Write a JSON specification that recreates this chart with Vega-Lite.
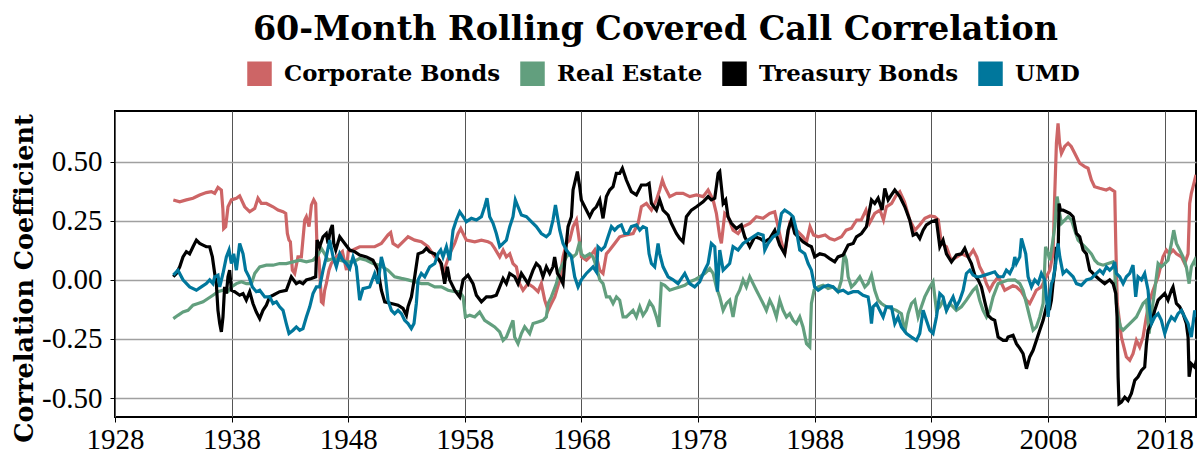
{
"$schema":"https://vega.github.io/schema/vega-lite/v6.json",
"width":1081,"height":306,
"autosize":{"type":"none"},
"padding":{"left":115,"top":111,"right":2,"bottom":37},
"background":"white",
"config":{"view":{"stroke":"black","strokeWidth":2},"font":"DejaVu Serif"},
"title":{"text":"60-Month Rolling Covered Call Correlation","font":"DejaVu Serif","fontSize":33.4,"fontWeight":"bold","color":"black","anchor":"middle","offset":14},
"data":{"values":[
{"k":"C","t":1933.0,"v":0.338},{"k":"C","t":1933.55,"v":0.33},{"k":"C","t":1934.12,"v":0.338},{"k":"C","t":1934.69,"v":0.345},{"k":"C","t":1935.26,"v":0.359},{"k":"C","t":1935.83,"v":0.369},{"k":"C","t":1936.26,"v":0.373},{"k":"C","t":1936.55,"v":0.366},{"k":"C","t":1936.83,"v":0.391},{"k":"C","t":1937.12,"v":0.38},{"k":"C","t":1937.25,"v":0.3},{"k":"C","t":1937.32,"v":0.217},{"k":"C","t":1937.49,"v":0.225},{"k":"C","t":1937.69,"v":0.309},{"k":"C","t":1937.98,"v":0.338},{"k":"C","t":1938.41,"v":0.345},{"k":"C","t":1938.69,"v":0.355},{"k":"C","t":1939.12,"v":0.309},{"k":"C","t":1939.55,"v":0.288},{"k":"C","t":1939.98,"v":0.302},{"k":"C","t":1940.26,"v":0.345},{"k":"C","t":1940.55,"v":0.323},{"k":"C","t":1940.98,"v":0.323},{"k":"C","t":1941.55,"v":0.309},{"k":"C","t":1941.98,"v":0.295},{"k":"C","t":1942.41,"v":0.288},{"k":"C","t":1942.64,"v":0.281},{"k":"C","t":1942.78,"v":0.196},{"k":"C","t":1942.92,"v":0.168},{"k":"C","t":1943.04,"v":0.161},{"k":"C","t":1943.21,"v":0.041},{"k":"C","t":1943.41,"v":0.027},{"k":"C","t":1943.69,"v":0.097},{"k":"C","t":1943.98,"v":0.097},{"k":"C","t":1944.27,"v":0.253},{"k":"C","t":1944.41,"v":0.267},{"k":"C","t":1944.64,"v":0.225},{"k":"C","t":1944.84,"v":0.316},{"k":"C","t":1945.04,"v":0.338},{"k":"C","t":1945.21,"v":0.323},{"k":"C","t":1945.33,"v":0.126},{"k":"C","t":1945.5,"v":0.083},{"k":"C","t":1945.7,"v":-0.093},{"k":"C","t":1945.84,"v":-0.1},{"k":"C","t":1945.98,"v":-0.044},{"k":"C","t":1946.12,"v":-0.016},{"k":"C","t":1946.35,"v":0.041},{"k":"C","t":1946.55,"v":0.069},{"k":"C","t":1946.98,"v":0.097},{"k":"C","t":1947.5,"v":0.12},{"k":"C","t":1947.85,"v":0.041},{"k":"C","t":1948.0,"v":0.12},{"k":"C","t":1948.4,"v":0.126},{"k":"C","t":1948.98,"v":0.14},{"k":"C","t":1949.6,"v":0.14},{"k":"C","t":1950.27,"v":0.14},{"k":"C","t":1950.84,"v":0.154},{"k":"C","t":1951.41,"v":0.19},{"k":"C","t":1951.64,"v":0.2},{"k":"C","t":1951.84,"v":0.154},{"k":"C","t":1952.27,"v":0.14},{"k":"C","t":1952.84,"v":0.168},{"k":"C","t":1953.13,"v":0.182},{"k":"C","t":1953.7,"v":0.168},{"k":"C","t":1954.27,"v":0.161},{"k":"C","t":1954.84,"v":0.14},{"k":"C","t":1955.42,"v":0.097},{"k":"C","t":1955.84,"v":0.083},{"k":"C","t":1956.13,"v":0.027},{"k":"C","t":1956.42,"v":0.069},{"k":"C","t":1956.7,"v":0.11},{"k":"C","t":1957.13,"v":0.154},{"k":"C","t":1957.42,"v":0.196},{"k":"C","t":1957.65,"v":0.217},{"k":"C","t":1957.85,"v":0.196},{"k":"C","t":1958.13,"v":0.168},{"k":"C","t":1958.85,"v":0.161},{"k":"C","t":1959.42,"v":0.168},{"k":"C","t":1959.99,"v":0.161},{"k":"C","t":1960.27,"v":0.154},{"k":"C","t":1960.56,"v":0.133},{"k":"C","t":1960.99,"v":0.097},{"k":"C","t":1961.28,"v":0.126},{"k":"C","t":1961.56,"v":0.097},{"k":"C","t":1961.85,"v":0.11},{"k":"C","t":1962.13,"v":0.069},{"k":"C","t":1962.42,"v":0.055},{"k":"C","t":1962.7,"v":-0.016},{"k":"C","t":1962.99,"v":-0.044},{"k":"C","t":1963.42,"v":-0.016},{"k":"C","t":1963.85,"v":-0.03},{"k":"C","t":1964.28,"v":-0.05},{"k":"C","t":1964.56,"v":-0.016},{"k":"C","t":1964.85,"v":-0.086},{"k":"C","t":1965.14,"v":-0.129},{"k":"C","t":1965.42,"v":-0.1},{"k":"C","t":1965.71,"v":-0.072},{"k":"C","t":1966.14,"v":0.0},{"k":"C","t":1966.42,"v":0.097},{"k":"C","t":1966.71,"v":0.154},{"k":"C","t":1966.99,"v":0.168},{"k":"C","t":1967.28,"v":0.225},{"k":"C","t":1967.57,"v":0.253},{"k":"C","t":1967.77,"v":0.182},{"k":"C","t":1968.0,"v":0.097},{"k":"C","t":1968.42,"v":0.083},{"k":"C","t":1968.71,"v":0.097},{"k":"C","t":1969.14,"v":0.126},{"k":"C","t":1969.57,"v":0.041},{"k":"C","t":1969.85,"v":0.027},{"k":"C","t":1970.14,"v":0.11},{"k":"C","t":1970.42,"v":0.126},{"k":"C","t":1970.85,"v":0.154},{"k":"C","t":1971.28,"v":0.182},{"k":"C","t":1971.85,"v":0.19},{"k":"C","t":1972.43,"v":0.196},{"k":"C","t":1972.86,"v":0.239},{"k":"C","t":1973.14,"v":0.309},{"k":"C","t":1973.57,"v":0.323},{"k":"C","t":1974.0,"v":0.295},{"k":"C","t":1974.43,"v":0.338},{"k":"C","t":1974.71,"v":0.38},{"k":"C","t":1974.94,"v":0.422},{"k":"C","t":1975.14,"v":0.394},{"k":"C","t":1975.57,"v":0.352},{"k":"C","t":1976.14,"v":0.366},{"k":"C","t":1976.71,"v":0.366},{"k":"C","t":1977.29,"v":0.352},{"k":"C","t":1977.86,"v":0.359},{"k":"C","t":1978.43,"v":0.352},{"k":"C","t":1978.86,"v":0.38},{"k":"C","t":1979.29,"v":0.338},{"k":"C","t":1979.57,"v":0.281},{"k":"C","t":1979.86,"v":0.182},{"k":"C","t":1980.0,"v":0.154},{"k":"C","t":1980.29,"v":0.281},{"k":"C","t":1980.57,"v":0.267},{"k":"C","t":1981.0,"v":0.21},{"k":"C","t":1981.43,"v":0.196},{"k":"C","t":1981.86,"v":0.225},{"k":"C","t":1982.43,"v":0.239},{"k":"C","t":1983.0,"v":0.267},{"k":"C","t":1983.57,"v":0.26},{"k":"C","t":1984.14,"v":0.281},{"k":"C","t":1984.57,"v":0.288},{"k":"C","t":1984.86,"v":0.225},{"k":"C","t":1985.14,"v":0.161},{"k":"C","t":1985.43,"v":0.11},{"k":"C","t":1985.86,"v":0.239},{"k":"C","t":1986.43,"v":0.21},{"k":"C","t":1987.0,"v":0.182},{"k":"C","t":1987.3,"v":0.16},{"k":"C","t":1987.6,"v":0.225},{"k":"C","t":1987.9,"v":0.19},{"k":"C","t":1988.3,"v":0.182},{"k":"C","t":1988.9,"v":0.19},{"k":"C","t":1989.3,"v":0.175},{"k":"C","t":1989.7,"v":0.168},{"k":"C","t":1990.3,"v":0.182},{"k":"C","t":1990.7,"v":0.21},{"k":"C","t":1991.15,"v":0.218},{"k":"C","t":1991.6,"v":0.253},{"k":"C","t":1992.0,"v":0.253},{"k":"C","t":1992.4,"v":0.295},{"k":"C","t":1992.7,"v":0.24},{"k":"C","t":1993.15,"v":0.281},{"k":"C","t":1993.6,"v":0.295},{"k":"C","t":1993.9,"v":0.253},{"k":"C","t":1994.15,"v":0.309},{"k":"C","t":1994.6,"v":0.323},{"k":"C","t":1995.0,"v":0.359},{"k":"C","t":1995.3,"v":0.373},{"k":"C","t":1995.7,"v":0.33},{"k":"C","t":1996.15,"v":0.253},{"k":"C","t":1996.6,"v":0.21},{"k":"C","t":1997.0,"v":0.232},{"k":"C","t":1997.45,"v":0.26},{"k":"C","t":1997.9,"v":0.27},{"k":"C","t":1998.3,"v":0.267},{"k":"C","t":1998.6,"v":0.254},{"k":"C","t":1998.87,"v":0.154},{"k":"C","t":1999.3,"v":0.14},{"k":"C","t":1999.7,"v":0.083},{"k":"C","t":2000.2,"v":0.097},{"k":"C","t":2000.6,"v":0.11},{"k":"C","t":2001.2,"v":0.097},{"k":"C","t":2001.6,"v":0.126},{"k":"C","t":2001.9,"v":0.097},{"k":"C","t":2002.15,"v":0.055},{"k":"C","t":2002.45,"v":0.027},{"k":"C","t":2002.73,"v":-0.016},{"k":"C","t":2003.0,"v":-0.044},{"k":"C","t":2003.3,"v":-0.016},{"k":"C","t":2003.75,"v":0.013},{"k":"C","t":2004.3,"v":-0.044},{"k":"C","t":2005.0,"v":-0.025},{"k":"C","t":2005.3,"v":-0.03},{"k":"C","t":2005.73,"v":-0.05},{"k":"C","t":2006.16,"v":-0.086},{"k":"C","t":2006.44,"v":-0.1},{"k":"C","t":2006.73,"v":-0.072},{"k":"C","t":2007.0,"v":-0.044},{"k":"C","t":2007.44,"v":-0.03},{"k":"C","t":2007.87,"v":0.013},{"k":"C","t":2008.16,"v":0.041},{"k":"C","t":2008.44,"v":0.11},{"k":"C","t":2008.59,"v":0.366},{"k":"C","t":2008.73,"v":0.578},{"k":"C","t":2008.87,"v":0.662},{"k":"C","t":2009.0,"v":0.578},{"k":"C","t":2009.16,"v":0.535},{"k":"C","t":2009.44,"v":0.564},{"k":"C","t":2009.73,"v":0.578},{"k":"C","t":2010.0,"v":0.564},{"k":"C","t":2010.3,"v":0.535},{"k":"C","t":2010.73,"v":0.493},{"k":"C","t":2011.16,"v":0.479},{"k":"C","t":2011.44,"v":0.472},{"k":"C","t":2011.73,"v":0.422},{"k":"C","t":2012.0,"v":0.394},{"k":"C","t":2012.44,"v":0.387},{"k":"C","t":2013.0,"v":0.38},{"k":"C","t":2013.3,"v":0.387},{"k":"C","t":2013.73,"v":0.373},{"k":"C","t":2013.82,"v":0.154},{"k":"C","t":2013.95,"v":-0.1},{"k":"C","t":2014.3,"v":-0.242},{"k":"C","t":2014.73,"v":-0.326},{"k":"C","t":2015.02,"v":-0.34},{"k":"C","t":2015.3,"v":-0.312},{"k":"C","t":2015.59,"v":-0.256},{"k":"C","t":2015.87,"v":-0.284},{"k":"C","t":2016.16,"v":-0.242},{"k":"C","t":2016.44,"v":-0.157},{"k":"C","t":2016.73,"v":-0.086},{"k":"C","t":2017.02,"v":-0.044},{"k":"C","t":2017.45,"v":0.013},{"k":"C","t":2017.87,"v":0.097},{"k":"C","t":2018.16,"v":0.126},{"k":"C","t":2018.44,"v":0.11},{"k":"C","t":2018.73,"v":0.126},{"k":"C","t":2019.02,"v":0.11},{"k":"C","t":2019.45,"v":0.097},{"k":"C","t":2019.73,"v":0.069},{"k":"C","t":2020.02,"v":0.11},{"k":"C","t":2020.16,"v":0.323},{"k":"C","t":2020.3,"v":0.366},{"k":"C","t":2020.45,"v":0.394},{"k":"C","t":2020.7,"v":0.444},
{"k":"R","t":1933.0,"v":-0.164},{"k":"R","t":1933.4,"v":-0.15},{"k":"R","t":1933.83,"v":-0.136},{"k":"R","t":1934.26,"v":-0.129},{"k":"R","t":1934.69,"v":-0.107},{"k":"R","t":1935.12,"v":-0.1},{"k":"R","t":1935.55,"v":-0.093},{"k":"R","t":1935.98,"v":-0.079},{"k":"R","t":1936.4,"v":-0.065},{"k":"R","t":1936.83,"v":-0.05},{"k":"R","t":1937.26,"v":-0.044},{"k":"R","t":1937.69,"v":-0.05},{"k":"R","t":1937.98,"v":-0.03},{"k":"R","t":1938.41,"v":-0.016},{"k":"R","t":1938.84,"v":-0.008},{"k":"R","t":1939.26,"v":-0.016},{"k":"R","t":1939.7,"v":-0.016},{"k":"R","t":1939.98,"v":0.027},{"k":"R","t":1940.41,"v":0.055},{"k":"R","t":1940.98,"v":0.062},{"k":"R","t":1941.55,"v":0.062},{"k":"R","t":1942.12,"v":0.069},{"k":"R","t":1942.69,"v":0.069},{"k":"R","t":1943.27,"v":0.076},{"k":"R","t":1943.84,"v":0.083},{"k":"R","t":1944.41,"v":0.076},{"k":"R","t":1944.98,"v":0.083},{"k":"R","t":1945.4,"v":0.105},{"k":"R","t":1945.7,"v":0.133},{"k":"R","t":1945.98,"v":0.11},{"k":"R","t":1946.27,"v":0.083},{"k":"R","t":1946.7,"v":0.09},{"k":"R","t":1947.27,"v":0.083},{"k":"R","t":1947.84,"v":0.076},{"k":"R","t":1948.41,"v":0.076},{"k":"R","t":1948.98,"v":0.09},{"k":"R","t":1949.56,"v":0.083},{"k":"R","t":1950.12,"v":0.069},{"k":"R","t":1950.7,"v":0.062},{"k":"R","t":1951.41,"v":0.041},{"k":"R","t":1951.98,"v":0.013},{"k":"R","t":1952.56,"v":0.006},{"k":"R","t":1953.13,"v":0.0},{"k":"R","t":1953.7,"v":-0.008},{"k":"R","t":1954.27,"v":-0.016},{"k":"R","t":1954.84,"v":-0.016},{"k":"R","t":1955.42,"v":-0.03},{"k":"R","t":1955.99,"v":-0.03},{"k":"R","t":1956.56,"v":-0.044},{"k":"R","t":1957.13,"v":-0.05},{"k":"R","t":1957.56,"v":-0.05},{"k":"R","t":1957.85,"v":-0.072},{"k":"R","t":1958.05,"v":-0.157},{"k":"R","t":1958.42,"v":-0.15},{"k":"R","t":1958.85,"v":-0.157},{"k":"R","t":1959.27,"v":-0.136},{"k":"R","t":1959.7,"v":-0.171},{"k":"R","t":1960.13,"v":-0.185},{"k":"R","t":1960.56,"v":-0.199},{"k":"R","t":1960.99,"v":-0.22},{"k":"R","t":1961.28,"v":-0.256},{"k":"R","t":1961.56,"v":-0.242},{"k":"R","t":1961.85,"v":-0.206},{"k":"R","t":1962.13,"v":-0.171},{"k":"R","t":1962.27,"v":-0.242},{"k":"R","t":1962.56,"v":-0.27},{"k":"R","t":1962.85,"v":-0.227},{"k":"R","t":1963.13,"v":-0.199},{"k":"R","t":1963.56,"v":-0.227},{"k":"R","t":1963.85,"v":-0.185},{"k":"R","t":1964.28,"v":-0.178},{"k":"R","t":1964.7,"v":-0.171},{"k":"R","t":1964.99,"v":-0.157},{"k":"R","t":1965.14,"v":-0.1},{"k":"R","t":1965.42,"v":-0.072},{"k":"R","t":1965.85,"v":-0.016},{"k":"R","t":1966.13,"v":0.041},{"k":"R","t":1966.42,"v":0.069},{"k":"R","t":1966.71,"v":0.097},{"k":"R","t":1966.99,"v":0.11},{"k":"R","t":1967.28,"v":0.097},{"k":"R","t":1967.56,"v":0.11},{"k":"R","t":1967.85,"v":0.161},{"k":"R","t":1967.99,"v":0.11},{"k":"R","t":1968.28,"v":0.097},{"k":"R","t":1968.71,"v":0.11},{"k":"R","t":1968.99,"v":0.097},{"k":"R","t":1969.28,"v":0.055},{"k":"R","t":1969.57,"v":0.0},{"k":"R","t":1969.85,"v":-0.016},{"k":"R","t":1970.14,"v":-0.072},{"k":"R","t":1970.42,"v":-0.072},{"k":"R","t":1970.71,"v":-0.1},{"k":"R","t":1971.0,"v":-0.072},{"k":"R","t":1971.28,"v":-0.086},{"k":"R","t":1971.57,"v":-0.157},{"k":"R","t":1971.85,"v":-0.157},{"k":"R","t":1972.14,"v":-0.143},{"k":"R","t":1972.42,"v":-0.129},{"k":"R","t":1972.71,"v":-0.157},{"k":"R","t":1973.0,"v":-0.114},{"k":"R","t":1973.28,"v":-0.15},{"k":"R","t":1973.57,"v":-0.129},{"k":"R","t":1973.85,"v":-0.093},{"k":"R","t":1974.14,"v":-0.114},{"k":"R","t":1974.43,"v":-0.157},{"k":"R","t":1974.65,"v":-0.199},{"k":"R","t":1974.85,"v":-0.016},{"k":"R","t":1975.14,"v":-0.023},{"k":"R","t":1975.57,"v":-0.044},{"k":"R","t":1976.0,"v":-0.037},{"k":"R","t":1976.43,"v":-0.03},{"k":"R","t":1976.86,"v":-0.023},{"k":"R","t":1977.29,"v":-0.008},{"k":"R","t":1977.71,"v":0.0},{"k":"R","t":1978.14,"v":0.013},{"k":"R","t":1978.57,"v":0.027},{"k":"R","t":1979.0,"v":0.048},{"k":"R","t":1979.29,"v":0.027},{"k":"R","t":1979.57,"v":-0.03},{"k":"R","t":1979.86,"v":-0.072},{"k":"R","t":1980.15,"v":-0.129},{"k":"R","t":1980.43,"v":-0.1},{"k":"R","t":1980.71,"v":-0.086},{"k":"R","t":1981.0,"v":-0.157},{"k":"R","t":1981.29,"v":-0.072},{"k":"R","t":1981.57,"v":-0.044},{"k":"R","t":1981.86,"v":0.0},{"k":"R","t":1982.14,"v":-0.03},{"k":"R","t":1982.43,"v":0.013},{"k":"R","t":1982.72,"v":-0.016},{"k":"R","t":1983.0,"v":-0.044},{"k":"R","t":1983.29,"v":-0.072},{"k":"R","t":1983.58,"v":-0.1},{"k":"R","t":1983.86,"v":-0.129},{"k":"R","t":1984.15,"v":-0.086},{"k":"R","t":1984.43,"v":-0.114},{"k":"R","t":1984.72,"v":-0.157},{"k":"R","t":1985.0,"v":-0.086},{"k":"R","t":1985.29,"v":-0.129},{"k":"R","t":1985.58,"v":-0.157},{"k":"R","t":1985.86,"v":-0.143},{"k":"R","t":1986.15,"v":-0.171},{"k":"R","t":1986.43,"v":-0.185},{"k":"R","t":1986.72,"v":-0.157},{"k":"R","t":1987.0,"v":-0.199},{"k":"R","t":1987.3,"v":-0.27},{"k":"R","t":1987.58,"v":-0.284},{"k":"R","t":1987.72,"v":-0.1},{"k":"R","t":1987.95,"v":-0.044},{"k":"R","t":1988.3,"v":-0.03},{"k":"R","t":1988.72,"v":-0.023},{"k":"R","t":1989.15,"v":-0.037},{"k":"R","t":1989.58,"v":-0.03},{"k":"R","t":1990.0,"v":-0.05},{"k":"R","t":1990.3,"v":0.0},{"k":"R","t":1990.52,"v":0.11},{"k":"R","t":1990.72,"v":0.083},{"k":"R","t":1990.87,"v":0.013},{"k":"R","t":1991.15,"v":-0.03},{"k":"R","t":1991.44,"v":-0.016},{"k":"R","t":1991.87,"v":0.013},{"k":"R","t":1992.3,"v":-0.03},{"k":"R","t":1992.58,"v":-0.016},{"k":"R","t":1992.87,"v":0.02},{"k":"R","t":1993.15,"v":-0.044},{"k":"R","t":1993.44,"v":-0.086},{"k":"R","t":1993.72,"v":-0.1},{"k":"R","t":1994.15,"v":-0.114},{"k":"R","t":1994.58,"v":-0.121},{"k":"R","t":1995.01,"v":-0.129},{"k":"R","t":1995.44,"v":-0.143},{"k":"R","t":1995.73,"v":-0.22},{"k":"R","t":1996.01,"v":-0.143},{"k":"R","t":1996.3,"v":-0.1},{"k":"R","t":1996.58,"v":-0.086},{"k":"R","t":1996.87,"v":-0.157},{"k":"R","t":1997.15,"v":-0.114},{"k":"R","t":1997.44,"v":-0.072},{"k":"R","t":1997.87,"v":-0.03},{"k":"R","t":1998.15,"v":-0.008},{"k":"R","t":1998.44,"v":-0.129},{"k":"R","t":1998.73,"v":-0.114},{"k":"R","t":1999.01,"v":-0.086},{"k":"R","t":1999.3,"v":-0.129},{"k":"R","t":1999.58,"v":-0.1},{"k":"R","t":1999.87,"v":-0.114},{"k":"R","t":2000.15,"v":-0.129},{"k":"R","t":2000.58,"v":-0.114},{"k":"R","t":2001.01,"v":-0.086},{"k":"R","t":2001.3,"v":-0.065},{"k":"R","t":2001.58,"v":-0.044},{"k":"R","t":2001.87,"v":-0.03},{"k":"R","t":2002.15,"v":-0.086},{"k":"R","t":2002.44,"v":-0.129},{"k":"R","t":2002.73,"v":-0.157},{"k":"R","t":2003.01,"v":-0.129},{"k":"R","t":2003.3,"v":-0.072},{"k":"R","t":2003.73,"v":-0.016},{"k":"R","t":2004.16,"v":-0.008},{"k":"R","t":2004.59,"v":-0.001},{"k":"R","t":2005.16,"v":0.0},{"k":"R","t":2005.59,"v":-0.016},{"k":"R","t":2005.87,"v":-0.044},{"k":"R","t":2006.16,"v":-0.1},{"k":"R","t":2006.44,"v":-0.157},{"k":"R","t":2006.73,"v":-0.213},{"k":"R","t":2007.01,"v":-0.199},{"k":"R","t":2007.3,"v":-0.157},{"k":"R","t":2007.59,"v":-0.1},{"k":"R","t":2007.8,"v":0.14},{"k":"R","t":2008.02,"v":0.11},{"k":"R","t":2008.16,"v":0.083},{"k":"R","t":2008.39,"v":0.154},{"k":"R","t":2008.59,"v":0.225},{"k":"R","t":2008.79,"v":0.352},{"k":"R","t":2008.96,"v":0.295},{"k":"R","t":2009.16,"v":0.239},{"k":"R","t":2009.44,"v":0.253},{"k":"R","t":2009.73,"v":0.267},{"k":"R","t":2010.02,"v":0.253},{"k":"R","t":2010.3,"v":0.21},{"k":"R","t":2010.59,"v":0.168},{"k":"R","t":2010.87,"v":0.154},{"k":"R","t":2011.16,"v":0.14},{"k":"R","t":2011.44,"v":0.126},{"k":"R","t":2011.73,"v":0.11},{"k":"R","t":2012.02,"v":0.083},{"k":"R","t":2012.3,"v":0.069},{"k":"R","t":2012.73,"v":0.062},{"k":"R","t":2013.16,"v":0.069},{"k":"R","t":2013.59,"v":0.076},{"k":"R","t":2013.73,"v":0.041},{"k":"R","t":2013.87,"v":-0.1},{"k":"R","t":2014.02,"v":-0.157},{"k":"R","t":2014.22,"v":-0.199},{"k":"R","t":2014.45,"v":-0.213},{"k":"R","t":2014.73,"v":-0.199},{"k":"R","t":2015.02,"v":-0.185},{"k":"R","t":2015.3,"v":-0.171},{"k":"R","t":2015.59,"v":-0.157},{"k":"R","t":2015.87,"v":-0.129},{"k":"R","t":2016.16,"v":-0.1},{"k":"R","t":2016.45,"v":-0.086},{"k":"R","t":2016.68,"v":-0.227},{"k":"R","t":2016.88,"v":-0.143},{"k":"R","t":2017.16,"v":-0.044},{"k":"R","t":2017.45,"v":0.069},{"k":"R","t":2017.73,"v":0.055},{"k":"R","t":2018.02,"v":0.069},{"k":"R","t":2018.3,"v":0.083},{"k":"R","t":2018.59,"v":0.154},{"k":"R","t":2018.79,"v":0.21},{"k":"R","t":2019.02,"v":0.154},{"k":"R","t":2019.3,"v":0.126},{"k":"R","t":2019.59,"v":0.097},{"k":"R","t":2019.87,"v":0.055},{"k":"R","t":2020.11,"v":-0.016},{"k":"R","t":2020.3,"v":0.055},{"k":"R","t":2020.59,"v":0.083},{"k":"R","t":2020.74,"v":0.055},
{"k":"T","t":1933.0,"v":0.013},{"k":"T","t":1933.26,"v":0.027},{"k":"T","t":1933.55,"v":0.055},{"k":"T","t":1933.83,"v":0.097},{"k":"T","t":1934.12,"v":0.119},{"k":"T","t":1934.4,"v":0.11},{"k":"T","t":1934.69,"v":0.14},{"k":"T","t":1934.98,"v":0.168},{"k":"T","t":1935.26,"v":0.154},{"k":"T","t":1935.55,"v":0.147},{"k":"T","t":1935.83,"v":0.14},{"k":"T","t":1936.12,"v":0.14},{"k":"T","t":1936.35,"v":0.097},{"k":"T","t":1936.55,"v":0.027},{"k":"T","t":1936.69,"v":-0.016},{"k":"T","t":1936.83,"v":-0.129},{"k":"T","t":1936.98,"v":-0.185},{"k":"T","t":1937.12,"v":-0.22},{"k":"T","t":1937.26,"v":-0.157},{"k":"T","t":1937.4,"v":-0.03},{"k":"T","t":1937.55,"v":-0.058},{"k":"T","t":1937.69,"v":0.013},{"k":"T","t":1937.83,"v":0.041},{"k":"T","t":1937.98,"v":-0.044},{"k":"T","t":1938.26,"v":-0.05},{"k":"T","t":1938.69,"v":-0.065},{"k":"T","t":1938.98,"v":-0.058},{"k":"T","t":1939.26,"v":-0.086},{"k":"T","t":1939.55,"v":-0.05},{"k":"T","t":1939.83,"v":-0.1},{"k":"T","t":1940.12,"v":-0.136},{"k":"T","t":1940.41,"v":-0.164},{"k":"T","t":1940.69,"v":-0.129},{"k":"T","t":1940.98,"v":-0.107},{"k":"T","t":1941.26,"v":-0.072},{"k":"T","t":1941.55,"v":-0.065},{"k":"T","t":1942.12,"v":-0.05},{"k":"T","t":1942.69,"v":-0.044},{"k":"T","t":1943.12,"v":0.013},{"k":"T","t":1943.55,"v":-0.016},{"k":"T","t":1943.83,"v":-0.008},{"k":"T","t":1944.12,"v":-0.016},{"k":"T","t":1944.41,"v":0.0},{"k":"T","t":1944.84,"v":0.006},{"k":"T","t":1945.21,"v":0.013},{"k":"T","t":1945.33,"v":0.168},{"k":"T","t":1945.55,"v":0.14},{"k":"T","t":1945.84,"v":0.182},{"k":"T","t":1946.12,"v":0.196},{"k":"T","t":1946.27,"v":0.154},{"k":"T","t":1946.47,"v":0.21},{"k":"T","t":1946.64,"v":0.232},{"k":"T","t":1946.76,"v":0.154},{"k":"T","t":1946.93,"v":0.126},{"k":"T","t":1947.27,"v":0.182},{"k":"T","t":1947.7,"v":0.154},{"k":"T","t":1948.12,"v":0.126},{"k":"T","t":1948.55,"v":0.119},{"k":"T","t":1948.98,"v":0.105},{"k":"T","t":1949.56,"v":0.097},{"k":"T","t":1950.12,"v":0.083},{"k":"T","t":1950.55,"v":0.041},{"k":"T","t":1950.84,"v":-0.044},{"k":"T","t":1951.13,"v":-0.093},{"k":"T","t":1951.7,"v":-0.1},{"k":"T","t":1952.27,"v":-0.107},{"k":"T","t":1952.7,"v":-0.121},{"k":"T","t":1952.99,"v":-0.15},{"k":"T","t":1953.13,"v":-0.113},{"k":"T","t":1953.42,"v":-0.072},{"k":"T","t":1953.7,"v":0.013},{"k":"T","t":1953.99,"v":0.11},{"k":"T","t":1954.42,"v":0.118},{"k":"T","t":1954.7,"v":0.133},{"k":"T","t":1954.99,"v":0.118},{"k":"T","t":1955.42,"v":0.11},{"k":"T","t":1955.99,"v":0.069},{"k":"T","t":1956.27,"v":-0.016},{"k":"T","t":1956.5,"v":0.055},{"k":"T","t":1956.7,"v":0.0},{"k":"T","t":1957.13,"v":-0.044},{"k":"T","t":1957.56,"v":-0.072},{"k":"T","t":1957.85,"v":0.0},{"k":"T","t":1958.27,"v":0.02},{"k":"T","t":1958.7,"v":-0.016},{"k":"T","t":1958.99,"v":-0.065},{"k":"T","t":1959.42,"v":-0.093},{"k":"T","t":1959.85,"v":-0.072},{"k":"T","t":1960.28,"v":-0.072},{"k":"T","t":1960.7,"v":-0.065},{"k":"T","t":1960.99,"v":-0.03},{"k":"T","t":1961.28,"v":0.006},{"k":"T","t":1961.56,"v":-0.016},{"k":"T","t":1961.85,"v":0.027},{"k":"T","t":1962.28,"v":0.013},{"k":"T","t":1962.56,"v":-0.016},{"k":"T","t":1962.85,"v":0.027},{"k":"T","t":1963.13,"v":0.006},{"k":"T","t":1963.42,"v":-0.016},{"k":"T","t":1963.85,"v":0.041},{"k":"T","t":1964.13,"v":0.069},{"k":"T","t":1964.42,"v":0.055},{"k":"T","t":1964.7,"v":0.013},{"k":"T","t":1964.99,"v":0.055},{"k":"T","t":1965.28,"v":0.027},{"k":"T","t":1965.56,"v":0.055},{"k":"T","t":1965.7,"v":0.097},{"k":"T","t":1965.94,"v":0.027},{"k":"T","t":1966.14,"v":0.013},{"k":"T","t":1966.42,"v":-0.016},{"k":"T","t":1966.62,"v":0.11},{"k":"T","t":1966.85,"v":0.225},{"k":"T","t":1967.14,"v":0.267},{"k":"T","t":1967.28,"v":0.38},{"k":"T","t":1967.48,"v":0.422},{"k":"T","t":1967.65,"v":0.458},{"k":"T","t":1967.85,"v":0.394},{"k":"T","t":1967.99,"v":0.338},{"k":"T","t":1968.28,"v":0.309},{"k":"T","t":1968.71,"v":0.267},{"k":"T","t":1968.99,"v":0.295},{"k":"T","t":1969.28,"v":0.309},{"k":"T","t":1969.57,"v":0.338},{"k":"T","t":1969.85,"v":0.26},{"k":"T","t":1970.14,"v":0.352},{"k":"T","t":1970.42,"v":0.38},{"k":"T","t":1970.71,"v":0.394},{"k":"T","t":1970.99,"v":0.45},{"k":"T","t":1971.28,"v":0.45},{"k":"T","t":1971.51,"v":0.472},{"k":"T","t":1971.85,"v":0.422},{"k":"T","t":1972.28,"v":0.373},{"k":"T","t":1972.71,"v":0.359},{"k":"T","t":1973.14,"v":0.401},{"k":"T","t":1973.57,"v":0.401},{"k":"T","t":1973.8,"v":0.408},{"k":"T","t":1974.0,"v":0.323},{"k":"T","t":1974.43,"v":0.295},{"k":"T","t":1974.71,"v":0.338},{"k":"T","t":1975.0,"v":0.295},{"k":"T","t":1975.43,"v":0.274},{"k":"T","t":1975.71,"v":0.239},{"k":"T","t":1976.14,"v":0.196},{"k":"T","t":1976.43,"v":0.175},{"k":"T","t":1976.71,"v":0.161},{"k":"T","t":1977.0,"v":0.267},{"k":"T","t":1977.43,"v":0.295},{"k":"T","t":1977.86,"v":0.309},{"k":"T","t":1978.43,"v":0.33},{"k":"T","t":1978.86,"v":0.352},{"k":"T","t":1979.14,"v":0.338},{"k":"T","t":1979.43,"v":0.345},{"k":"T","t":1979.72,"v":0.45},{"k":"T","t":1979.86,"v":0.458},{"k":"T","t":1980.0,"v":0.394},{"k":"T","t":1980.15,"v":0.323},{"k":"T","t":1980.37,"v":0.338},{"k":"T","t":1980.57,"v":0.267},{"k":"T","t":1980.86,"v":0.239},{"k":"T","t":1981.29,"v":0.217},{"k":"T","t":1981.71,"v":0.232},{"k":"T","t":1982.0,"v":0.182},{"k":"T","t":1982.43,"v":0.14},{"k":"T","t":1982.86,"v":0.182},{"k":"T","t":1983.29,"v":0.175},{"k":"T","t":1983.72,"v":0.161},{"k":"T","t":1984.15,"v":0.175},{"k":"T","t":1984.58,"v":0.21},{"k":"T","t":1985.0,"v":0.147},{"k":"T","t":1985.43,"v":0.11},{"k":"T","t":1985.72,"v":0.21},{"k":"T","t":1986.0,"v":0.253},{"k":"T","t":1986.29,"v":0.196},{"k":"T","t":1986.58,"v":0.182},{"k":"T","t":1987.0,"v":0.161},{"k":"T","t":1987.44,"v":0.147},{"k":"T","t":1987.72,"v":0.14},{"k":"T","t":1988.0,"v":0.097},{"k":"T","t":1988.44,"v":0.11},{"k":"T","t":1988.86,"v":0.105},{"k":"T","t":1989.29,"v":0.09},{"k":"T","t":1989.72,"v":0.076},{"k":"T","t":1990.0,"v":0.097},{"k":"T","t":1990.44,"v":0.105},{"k":"T","t":1990.87,"v":0.147},{"k":"T","t":1991.3,"v":0.154},{"k":"T","t":1991.58,"v":0.182},{"k":"T","t":1992.01,"v":0.196},{"k":"T","t":1992.44,"v":0.225},{"k":"T","t":1992.87,"v":0.338},{"k":"T","t":1993.15,"v":0.323},{"k":"T","t":1993.44,"v":0.345},{"k":"T","t":1993.78,"v":0.295},{"k":"T","t":1994.01,"v":0.387},{"k":"T","t":1994.3,"v":0.338},{"k":"T","t":1994.58,"v":0.359},{"k":"T","t":1994.87,"v":0.38},{"k":"T","t":1995.3,"v":0.352},{"k":"T","t":1995.73,"v":0.309},{"k":"T","t":1996.15,"v":0.253},{"k":"T","t":1996.44,"v":0.189},{"k":"T","t":1996.73,"v":0.196},{"k":"T","t":1997.01,"v":0.175},{"k":"T","t":1997.3,"v":0.21},{"k":"T","t":1997.58,"v":0.232},{"k":"T","t":1998.01,"v":0.246},{"k":"T","t":1998.44,"v":0.253},{"k":"T","t":1998.73,"v":0.14},{"k":"T","t":1999.01,"v":0.168},{"k":"T","t":1999.3,"v":0.11},{"k":"T","t":1999.73,"v":0.076},{"k":"T","t":2000.15,"v":0.105},{"k":"T","t":2000.58,"v":0.11},{"k":"T","t":2000.87,"v":0.133},{"k":"T","t":2001.16,"v":0.097},{"k":"T","t":2001.44,"v":0.069},{"k":"T","t":2001.73,"v":0.02},{"k":"T","t":2002.02,"v":0.0},{"k":"T","t":2002.3,"v":-0.03},{"k":"T","t":2002.59,"v":-0.093},{"k":"T","t":2002.87,"v":-0.15},{"k":"T","t":2003.16,"v":-0.164},{"k":"T","t":2003.44,"v":-0.171},{"k":"T","t":2003.73,"v":-0.242},{"k":"T","t":2004.16,"v":-0.256},{"k":"T","t":2004.44,"v":-0.256},{"k":"T","t":2004.58,"v":-0.242},{"k":"T","t":2005.01,"v":-0.234},{"k":"T","t":2005.3,"v":-0.27},{"k":"T","t":2005.59,"v":-0.29},{"k":"T","t":2005.87,"v":-0.312},{"k":"T","t":2006.16,"v":-0.376},{"k":"T","t":2006.44,"v":-0.326},{"k":"T","t":2006.73,"v":-0.298},{"k":"T","t":2007.01,"v":-0.256},{"k":"T","t":2007.3,"v":-0.213},{"k":"T","t":2007.59,"v":-0.171},{"k":"T","t":2007.87,"v":-0.114},{"k":"T","t":2008.16,"v":-0.12},{"k":"T","t":2008.3,"v":-0.086},{"k":"T","t":2008.44,"v":-0.016},{"k":"T","t":2008.59,"v":0.041},{"k":"T","t":2008.73,"v":0.14},{"k":"T","t":2008.87,"v":0.099},{"k":"T","t":2008.96,"v":0.323},{"k":"T","t":2009.07,"v":0.295},{"k":"T","t":2009.3,"v":0.295},{"k":"T","t":2009.59,"v":0.288},{"k":"T","t":2009.87,"v":0.281},{"k":"T","t":2010.16,"v":0.267},{"k":"T","t":2010.45,"v":0.196},{"k":"T","t":2010.73,"v":0.182},{"k":"T","t":2011.02,"v":0.126},{"k":"T","t":2011.3,"v":0.11},{"k":"T","t":2011.59,"v":0.041},{"k":"T","t":2011.87,"v":0.027},{"k":"T","t":2012.16,"v":0.013},{"k":"T","t":2012.45,"v":0.0},{"k":"T","t":2012.87,"v":-0.016},{"k":"T","t":2013.3,"v":0.0},{"k":"T","t":2013.59,"v":-0.016},{"k":"T","t":2013.82,"v":-0.058},{"k":"T","t":2013.93,"v":-0.157},{"k":"T","t":2014.02,"v":-0.41},{"k":"T","t":2014.1,"v":-0.524},{"k":"T","t":2014.3,"v":-0.517},{"k":"T","t":2014.59,"v":-0.496},{"k":"T","t":2014.87,"v":-0.51},{"k":"T","t":2015.16,"v":-0.48},{"k":"T","t":2015.45,"v":-0.425},{"k":"T","t":2015.73,"v":-0.41},{"k":"T","t":2016.02,"v":-0.383},{"k":"T","t":2016.3,"v":-0.369},{"k":"T","t":2016.45,"v":-0.27},{"k":"T","t":2016.59,"v":-0.213},{"k":"T","t":2016.87,"v":-0.185},{"k":"T","t":2017.02,"v":-0.157},{"k":"T","t":2017.16,"v":-0.129},{"k":"T","t":2017.45,"v":-0.086},{"k":"T","t":2017.73,"v":-0.072},{"k":"T","t":2018.02,"v":-0.058},{"k":"T","t":2018.3,"v":-0.086},{"k":"T","t":2018.59,"v":-0.044},{"k":"T","t":2018.73,"v":-0.03},{"k":"T","t":2019.02,"v":-0.1},{"k":"T","t":2019.3,"v":-0.114},{"k":"T","t":2019.59,"v":-0.143},{"k":"T","t":2019.87,"v":-0.185},{"k":"T","t":2020.02,"v":-0.242},{"k":"T","t":2020.11,"v":-0.41},{"k":"T","t":2020.3,"v":-0.355},{"k":"T","t":2020.59,"v":-0.369},{"k":"T","t":2020.74,"v":-0.34},
{"k":"U","t":1933.0,"v":0.02},{"k":"U","t":1933.4,"v":0.041},{"k":"U","t":1933.83,"v":0.0},{"k":"U","t":1934.4,"v":-0.03},{"k":"U","t":1934.98,"v":-0.044},{"k":"U","t":1935.4,"v":-0.03},{"k":"U","t":1935.83,"v":-0.016},{"k":"U","t":1936.12,"v":0.0},{"k":"U","t":1936.4,"v":-0.016},{"k":"U","t":1936.55,"v":0.013},{"k":"U","t":1936.83,"v":0.02},{"k":"U","t":1936.98,"v":-0.03},{"k":"U","t":1937.26,"v":0.027},{"k":"U","t":1937.55,"v":0.097},{"k":"U","t":1937.78,"v":0.126},{"k":"U","t":1937.98,"v":0.069},{"k":"U","t":1938.18,"v":0.11},{"k":"U","t":1938.41,"v":0.041},{"k":"U","t":1938.69,"v":0.154},{"k":"U","t":1938.98,"v":0.11},{"k":"U","t":1939.2,"v":0.041},{"k":"U","t":1939.49,"v":0.013},{"k":"U","t":1939.78,"v":-0.03},{"k":"U","t":1940.12,"v":-0.05},{"k":"U","t":1940.41,"v":-0.044},{"k":"U","t":1940.84,"v":-0.072},{"k":"U","t":1941.27,"v":-0.072},{"k":"U","t":1941.55,"v":-0.1},{"k":"U","t":1941.84,"v":-0.093},{"k":"U","t":1942.12,"v":-0.114},{"k":"U","t":1942.41,"v":-0.129},{"k":"U","t":1942.69,"v":-0.185},{"k":"U","t":1942.92,"v":-0.227},{"k":"U","t":1943.27,"v":-0.213},{"k":"U","t":1943.55,"v":-0.199},{"k":"U","t":1943.84,"v":-0.213},{"k":"U","t":1944.12,"v":-0.206},{"k":"U","t":1944.41,"v":-0.157},{"k":"U","t":1944.7,"v":-0.114},{"k":"U","t":1944.98,"v":-0.058},{"k":"U","t":1945.27,"v":-0.03},{"k":"U","t":1945.55,"v":-0.03},{"k":"U","t":1945.84,"v":0.041},{"k":"U","t":1946.12,"v":0.097},{"k":"U","t":1946.41,"v":0.168},{"k":"U","t":1946.7,"v":0.097},{"k":"U","t":1946.98,"v":0.055},{"k":"U","t":1947.27,"v":0.11},{"k":"U","t":1947.55,"v":0.083},{"k":"U","t":1947.84,"v":0.069},{"k":"U","t":1948.13,"v":0.048},{"k":"U","t":1948.41,"v":0.097},{"k":"U","t":1948.7,"v":0.055},{"k":"U","t":1948.98,"v":-0.086},{"k":"U","t":1949.27,"v":-0.037},{"k":"U","t":1949.84,"v":-0.03},{"k":"U","t":1950.27,"v":0.027},{"k":"U","t":1950.56,"v":-0.016},{"k":"U","t":1950.84,"v":0.097},{"k":"U","t":1951.13,"v":0.041},{"k":"U","t":1951.41,"v":-0.086},{"k":"U","t":1951.7,"v":-0.129},{"k":"U","t":1951.98,"v":-0.143},{"k":"U","t":1952.27,"v":-0.129},{"k":"U","t":1952.56,"v":-0.143},{"k":"U","t":1952.84,"v":-0.171},{"k":"U","t":1953.13,"v":-0.185},{"k":"U","t":1953.41,"v":-0.206},{"k":"U","t":1953.64,"v":-0.185},{"k":"U","t":1953.84,"v":-0.1},{"k":"U","t":1953.99,"v":0.0},{"k":"U","t":1954.27,"v":0.027},{"k":"U","t":1954.56,"v":0.013},{"k":"U","t":1954.99,"v":0.055},{"k":"U","t":1955.42,"v":0.069},{"k":"U","t":1955.7,"v":0.11},{"k":"U","t":1955.93,"v":0.126},{"k":"U","t":1956.13,"v":0.097},{"k":"U","t":1956.42,"v":0.14},{"k":"U","t":1956.7,"v":0.083},{"k":"U","t":1956.99,"v":0.21},{"k":"U","t":1957.27,"v":0.253},{"k":"U","t":1957.56,"v":0.288},{"k":"U","t":1957.85,"v":0.267},{"k":"U","t":1958.13,"v":0.246},{"k":"U","t":1958.56,"v":0.26},{"k":"U","t":1958.99,"v":0.253},{"k":"U","t":1959.42,"v":0.267},{"k":"U","t":1959.7,"v":0.309},{"k":"U","t":1959.9,"v":0.345},{"k":"U","t":1960.13,"v":0.267},{"k":"U","t":1960.42,"v":0.239},{"k":"U","t":1960.7,"v":0.196},{"k":"U","t":1960.99,"v":0.14},{"k":"U","t":1961.28,"v":0.154},{"k":"U","t":1961.56,"v":0.168},{"k":"U","t":1961.85,"v":0.225},{"k":"U","t":1962.13,"v":0.267},{"k":"U","t":1962.33,"v":0.338},{"k":"U","t":1962.56,"v":0.309},{"k":"U","t":1962.85,"v":0.274},{"k":"U","t":1963.28,"v":0.267},{"k":"U","t":1963.7,"v":0.246},{"k":"U","t":1964.13,"v":0.225},{"k":"U","t":1964.56,"v":0.196},{"k":"U","t":1964.99,"v":0.182},{"k":"U","t":1965.28,"v":0.196},{"k":"U","t":1965.56,"v":0.253},{"k":"U","t":1965.77,"v":0.316},{"k":"U","t":1965.99,"v":0.253},{"k":"U","t":1966.14,"v":0.21},{"k":"U","t":1966.42,"v":0.154},{"k":"U","t":1966.71,"v":0.126},{"k":"U","t":1967.14,"v":0.097},{"k":"U","t":1967.42,"v":0.013},{"k":"U","t":1967.71,"v":-0.03},{"k":"U","t":1967.99,"v":0.0},{"k":"U","t":1968.42,"v":0.027},{"k":"U","t":1968.71,"v":0.041},{"k":"U","t":1969.0,"v":0.055},{"k":"U","t":1969.28,"v":0.034},{"k":"U","t":1969.42,"v":0.14},{"k":"U","t":1969.71,"v":0.126},{"k":"U","t":1970.0,"v":0.14},{"k":"U","t":1970.28,"v":0.182},{"k":"U","t":1970.57,"v":0.225},{"k":"U","t":1970.85,"v":0.21},{"k":"U","t":1971.14,"v":0.225},{"k":"U","t":1971.42,"v":0.232},{"k":"U","t":1971.71,"v":0.196},{"k":"U","t":1972.0,"v":0.196},{"k":"U","t":1972.28,"v":0.225},{"k":"U","t":1972.71,"v":0.232},{"k":"U","t":1973.0,"v":0.21},{"k":"U","t":1973.28,"v":0.225},{"k":"U","t":1973.57,"v":0.218},{"k":"U","t":1973.8,"v":0.11},{"k":"U","t":1974.0,"v":0.069},{"k":"U","t":1974.28,"v":0.055},{"k":"U","t":1974.57,"v":0.154},{"k":"U","t":1974.71,"v":0.11},{"k":"U","t":1975.0,"v":0.055},{"k":"U","t":1975.43,"v":0.013},{"k":"U","t":1975.86,"v":0.0},{"k":"U","t":1976.28,"v":-0.016},{"k":"U","t":1976.86,"v":0.027},{"k":"U","t":1977.28,"v":-0.016},{"k":"U","t":1977.71,"v":-0.03},{"k":"U","t":1978.14,"v":-0.008},{"k":"U","t":1978.57,"v":0.041},{"k":"U","t":1978.86,"v":0.069},{"k":"U","t":1979.14,"v":0.154},{"k":"U","t":1979.43,"v":0.14},{"k":"U","t":1979.66,"v":-0.05},{"k":"U","t":1979.86,"v":0.126},{"k":"U","t":1980.15,"v":0.041},{"k":"U","t":1980.43,"v":0.055},{"k":"U","t":1980.71,"v":0.069},{"k":"U","t":1981.0,"v":0.14},{"k":"U","t":1981.43,"v":0.126},{"k":"U","t":1981.86,"v":0.154},{"k":"U","t":1982.29,"v":0.168},{"k":"U","t":1982.72,"v":0.182},{"k":"U","t":1983.15,"v":0.196},{"k":"U","t":1983.58,"v":0.189},{"k":"U","t":1983.72,"v":0.126},{"k":"U","t":1984.0,"v":0.154},{"k":"U","t":1984.43,"v":0.182},{"k":"U","t":1984.86,"v":0.196},{"k":"U","t":1985.15,"v":0.281},{"k":"U","t":1985.43,"v":0.295},{"k":"U","t":1985.86,"v":0.281},{"k":"U","t":1986.15,"v":0.267},{"k":"U","t":1986.43,"v":0.21},{"k":"U","t":1986.72,"v":0.126},{"k":"U","t":1987.15,"v":0.11},{"k":"U","t":1987.44,"v":0.069},{"k":"U","t":1987.72,"v":0.041},{"k":"U","t":1988.0,"v":-0.03},{"k":"U","t":1988.3,"v":-0.044},{"k":"U","t":1988.72,"v":-0.03},{"k":"U","t":1989.15,"v":-0.023},{"k":"U","t":1989.58,"v":-0.03},{"k":"U","t":1990.0,"v":-0.05},{"k":"U","t":1990.44,"v":-0.044},{"k":"U","t":1990.87,"v":-0.058},{"k":"U","t":1991.3,"v":-0.05},{"k":"U","t":1991.72,"v":-0.05},{"k":"U","t":1992.15,"v":-0.065},{"k":"U","t":1992.58,"v":-0.072},{"k":"U","t":1992.72,"v":-0.114},{"k":"U","t":1992.87,"v":-0.185},{"k":"U","t":1993.01,"v":-0.114},{"k":"U","t":1993.3,"v":-0.1},{"k":"U","t":1993.58,"v":-0.129},{"k":"U","t":1993.87,"v":-0.157},{"k":"U","t":1994.15,"v":-0.114},{"k":"U","t":1994.58,"v":-0.114},{"k":"U","t":1994.87,"v":-0.185},{"k":"U","t":1995.15,"v":-0.157},{"k":"U","t":1995.44,"v":-0.199},{"k":"U","t":1995.87,"v":-0.227},{"k":"U","t":1996.3,"v":-0.242},{"k":"U","t":1996.73,"v":-0.256},{"k":"U","t":1997.01,"v":-0.227},{"k":"U","t":1997.3,"v":-0.129},{"k":"U","t":1997.58,"v":-0.171},{"k":"U","t":1997.87,"v":-0.213},{"k":"U","t":1998.15,"v":-0.227},{"k":"U","t":1998.44,"v":-0.157},{"k":"U","t":1998.73,"v":-0.058},{"k":"U","t":1999.01,"v":-0.072},{"k":"U","t":1999.3,"v":-0.129},{"k":"U","t":1999.58,"v":-0.1},{"k":"U","t":1999.87,"v":-0.072},{"k":"U","t":2000.15,"v":-0.114},{"k":"U","t":2000.44,"v":-0.086},{"k":"U","t":2000.73,"v":-0.044},{"k":"U","t":2001.01,"v":0.027},{"k":"U","t":2001.3,"v":0.041},{"k":"U","t":2001.58,"v":0.02},{"k":"U","t":2001.87,"v":0.013},{"k":"U","t":2002.15,"v":0.013},{"k":"U","t":2002.58,"v":0.02},{"k":"U","t":2003.01,"v":0.027},{"k":"U","t":2003.44,"v":0.034},{"k":"U","t":2003.73,"v":0.013},{"k":"U","t":2004.16,"v":0.013},{"k":"U","t":2004.44,"v":0.041},{"k":"U","t":2004.73,"v":0.027},{"k":"U","t":2005.01,"v":0.055},{"k":"U","t":2005.16,"v":0.097},{"k":"U","t":2005.3,"v":0.069},{"k":"U","t":2005.59,"v":0.097},{"k":"U","t":2005.73,"v":0.175},{"k":"U","t":2005.93,"v":0.14},{"k":"U","t":2006.1,"v":0.11},{"k":"U","t":2006.3,"v":0.013},{"k":"U","t":2006.59,"v":-0.03},{"k":"U","t":2006.87,"v":0.0},{"k":"U","t":2007.16,"v":-0.016},{"k":"U","t":2007.44,"v":0.027},{"k":"U","t":2007.73,"v":0.0},{"k":"U","t":2007.87,"v":-0.072},{"k":"U","t":2008.02,"v":-0.157},{"k":"U","t":2008.16,"v":-0.072},{"k":"U","t":2008.3,"v":-0.016},{"k":"U","t":2008.44,"v":0.0},{"k":"U","t":2008.67,"v":0.069},{"k":"U","t":2008.87,"v":0.154},{"k":"U","t":2009.02,"v":0.097},{"k":"U","t":2009.3,"v":0.027},{"k":"U","t":2009.59,"v":0.041},{"k":"U","t":2009.87,"v":0.027},{"k":"U","t":2010.16,"v":0.013},{"k":"U","t":2010.45,"v":-0.016},{"k":"U","t":2010.87,"v":-0.023},{"k":"U","t":2011.3,"v":0.0},{"k":"U","t":2011.73,"v":0.006},{"k":"U","t":2012.16,"v":0.027},{"k":"U","t":2012.45,"v":0.041},{"k":"U","t":2012.73,"v":0.027},{"k":"U","t":2013.02,"v":0.055},{"k":"U","t":2013.3,"v":0.041},{"k":"U","t":2013.59,"v":0.055},{"k":"U","t":2013.73,"v":0.076},{"k":"U","t":2013.87,"v":0.027},{"k":"U","t":2014.16,"v":0.013},{"k":"U","t":2014.45,"v":-0.016},{"k":"U","t":2014.73,"v":0.013},{"k":"U","t":2015.02,"v":0.027},{"k":"U","t":2015.3,"v":0.062},{"k":"U","t":2015.53,"v":-0.072},{"k":"U","t":2015.73,"v":0.013},{"k":"U","t":2016.02,"v":0.0},{"k":"U","t":2016.3,"v":0.027},{"k":"U","t":2016.59,"v":-0.044},{"k":"U","t":2016.73,"v":-0.129},{"k":"U","t":2016.88,"v":-0.185},{"k":"U","t":2017.16,"v":-0.157},{"k":"U","t":2017.45,"v":-0.143},{"k":"U","t":2017.73,"v":-0.171},{"k":"U","t":2018.02,"v":-0.227},{"k":"U","t":2018.3,"v":-0.185},{"k":"U","t":2018.59,"v":-0.157},{"k":"U","t":2018.88,"v":-0.171},{"k":"U","t":2019.16,"v":-0.143},{"k":"U","t":2019.45,"v":-0.129},{"k":"U","t":2019.73,"v":-0.157},{"k":"U","t":2020.02,"v":-0.185},{"k":"U","t":2020.3,"v":-0.242},{"k":"U","t":2020.59,"v":-0.129},{"k":"U","t":2020.74,"v":-0.157}
]},
"mark":{"type":"line","strokeWidth":3.2,"clip":true},
"encoding":{
"x":{"field":"t","type":"quantitative","scale":{"domain":[1928,2020.7],"nice":false,"zero":false},
"axis":{"values":[1928,1938,1948,1958,1968,1978,1988,1998,2008,2018],"format":"d","title":null,"labelFont":"Liberation Serif","labelFontSize":29,"labelColor":"black","labelPadding":3,"labelFlush":false,"labelOverlap":false,"tickSize":5,"tickColor":"black","domain":false,"grid":true,"gridColor":"#555555","gridWidth":1}},
"y":{"field":"v","type":"quantitative","scale":{"domain":[-0.58,0.714],"nice":false,"zero":false},
"axis":{"values":[-0.5,-0.25,0,0.25,0.5],"labelExpr":"(datum.value < 0 ? '-' : '') + format(abs(datum.value), '.2f')","labelFont":"Liberation Serif","labelFontSize":29,"labelColor":"black","labelPadding":8,"tickSize":5,"tickColor":"black","domain":false,"grid":true,"gridColor":"#a0a0a0","gridWidth":1.5,
"title":"Correlation Coefficient","titleFont":"DejaVu Serif","titleFontSize":25.5,"titleFontWeight":"bold","titleColor":"black","titleX":-91,"titleY":167,"titleAngle":-90,"titleBaseline":"middle","titleAlign":"center"}},
"color":{"field":"k","type":"nominal","scale":{"domain":["C","R","T","U"],"range":["#cd6566","#629f7e","#000000","#00779c"]},
"legend":{"orient":"none","legendX":132,"legendY":-50,"direction":"horizontal","title":null,"padding":0,"symbolType":"square","symbolSize":484,"labelExpr":"datum.label == 'C' ? 'Corporate Bonds' : datum.label == 'R' ? 'Real Estate' : datum.label == 'T' ? 'Treasury Bonds' : 'UMD'","labelFont":"DejaVu Serif","labelFontWeight":"bold","labelFontSize":22.8,"labelColor":"black","labelOffset":12,"columnPadding":15,"labelLimit":400,
"encode":{"symbols":{"update":{"fill":{"scale":"color","field":"value"},"stroke":{"value":"#e2e2e2"},"strokeWidth":{"value":2.5},"opacity":{"value":1}}}}}}
}
}
